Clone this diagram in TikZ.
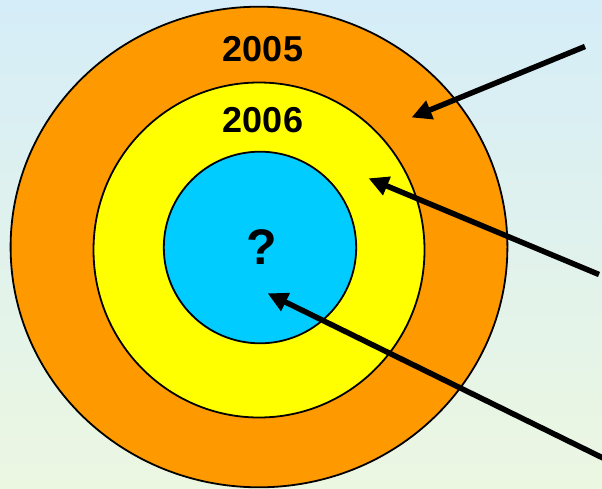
\documentclass[tikz,border=0pt]{standalone}
\usepackage{fontspec}
\setmainfont{Liberation Sans}
\usetikzlibrary{arrows.meta}
\definecolor{bgtop}{RGB}{213,237,248}
\definecolor{bgbot}{RGB}{236,247,225}
\definecolor{ringorange}{RGB}{255,153,0}
\definecolor{ringyellow}{RGB}{255,255,0}
\definecolor{ringblue}{RGB}{0,204,255}
\tikzset{
  ring/.style={draw=black, line width=1.8pt},
  yearlabel/.style={font=\bfseries\fontsize{36}{40}\selectfont, inner sep=0pt},
  pointer/.style={line width=5.5pt, -{Triangle[length=20pt,width=19pt]}}
}
\begin{document}
\begin{tikzpicture}[x=1pt,y=-1pt]
\useasboundingbox (0,0) rectangle (602,489);
\shade[top color=bgtop, bottom color=bgbot] (0,0) rectangle (602,489);
\draw[ring, fill=ringorange] (259,247) ellipse [x radius=248.4, y radius=240.3];
\draw[ring, fill=ringyellow] (259,250) ellipse [x radius=165.5, y radius=167.5];
\draw[ring, fill=ringblue] (260,247.5) ellipse [x radius=96.2, y radius=95.8];
\node[yearlabel] (y2005) at (263,48.8) {2005};
\node[yearlabel] (y2006) at (263,120.5) {2006};
\node[font=\bfseries\fontsize{50}{56}\selectfont, inner sep=0pt] (q) at (262,247) {?};
\coordinate (s1) at (585,46.5);
\coordinate (t1) at (411.5,117.5);
\coordinate (s2) at (599,274.5);
\coordinate (t2) at (368.5,178.3);
\coordinate (s3) at (606,459.5);
\coordinate (t3) at (267.6,293.3);
\draw[pointer] (s1) -- (t1);
\draw[pointer] (s2) -- (t2);
\draw[pointer] (s3) -- (t3);
\end{tikzpicture}
\end{document}
